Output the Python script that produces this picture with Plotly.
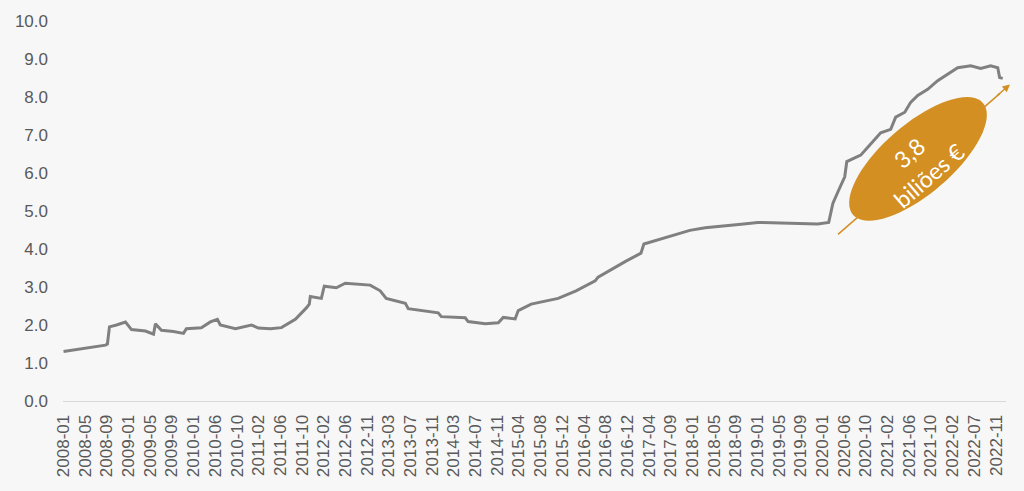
import math
import plotly.graph_objects as go

# Weekly balance-sheet readings (trillion €)
dates = [
    "2008-01-04", "2008-02-15", "2008-04-29", "2008-07-01", "2008-09-04", "2008-09-15",
    "2008-09-27", "2008-11-07",
    "2008-12-29", "2009-02-02", "2009-04-24", "2009-06-10", "2009-06-21", "2009-07-26",
    "2009-10-04", "2009-12-01", "2009-12-18", "2010-03-15", "2010-05-06", "2010-06-16",
    "2010-07-03", "2010-09-29", "2010-11-14", "2010-12-31", "2011-02-09", "2011-04-20",
    "2011-06-23", "2011-09-12", "2011-11-15", "2011-12-02", "2011-12-08", "2012-02-10",
    "2012-02-27", "2012-05-07", "2012-06-28", "2012-11-20", "2013-01-17", "2013-02-21",
    "2013-06-12", "2013-06-29", "2013-12-20", "2014-01-07", "2014-05-26", "2014-06-12",
    "2014-09-19", "2014-12-04", "2015-01-02", "2015-03-12", "2015-03-30", "2015-06-13",
    "2015-11-17", "2016-02-29", "2016-06-19", "2016-07-06", "2016-12-15", "2017-03-12",
    "2017-03-29", "2017-06-30", "2017-12-21", "2018-03-20", "2018-07-01", "2018-10-15",
    "2019-01-20", "2019-07-13",
    "2020-01-03", "2020-03-07", "2020-03-31", "2020-04-29", "2020-06-08", "2020-06-20",
    "2020-09-09", "2020-10-20", "2020-11-29", "2021-01-03", "2021-03-02", "2021-03-31",
    "2021-05-23", "2021-06-26", "2021-08-06", "2021-10-03", "2021-11-30", "2022-01-27",
    "2022-03-26", "2022-06-10", "2022-08-07", "2022-10-04", "2022-11-14", "2022-11-25",
    "2022-12-13",
]
values = [
    1.30, 1.33, 1.38, 1.43, 1.47, 1.50,
    1.95, 2.00,
    2.08, 1.88, 1.84, 1.76, 2.03, 1.86,
    1.83, 1.78, 1.90, 1.93, 2.08, 2.15,
    2.00, 1.90, 1.95, 2.00, 1.92, 1.90,
    1.93, 2.15, 2.45, 2.55, 2.75, 2.70,
    3.02, 2.98, 3.10, 3.05, 2.90, 2.70,
    2.57, 2.43, 2.32, 2.22, 2.19, 2.09,
    2.03, 2.06, 2.20, 2.16, 2.38, 2.55,
    2.70, 2.90, 3.16, 3.26, 3.68, 3.89,
    4.13, 4.25, 4.49, 4.56, 4.60, 4.65,
    4.70, 4.68,
    4.66, 4.70, 5.20, 5.50, 5.90, 6.30,
    6.47, 6.68, 6.89, 7.06, 7.15, 7.47,
    7.60, 7.86, 8.04, 8.20, 8.43, 8.59,
    8.77, 8.82, 8.75, 8.82, 8.77, 8.51,
    8.49,
]

tick_dates = [
    "2008-01-04", "2008-05-09", "2008-09-12", "2009-01-16", "2009-05-22", "2009-09-25",
    "2010-01-29", "2010-06-04", "2010-10-08", "2011-02-11", "2011-06-17", "2011-10-21",
    "2012-02-24", "2012-06-29", "2012-11-02", "2013-03-08", "2013-07-12", "2013-11-15",
    "2014-03-21", "2014-07-25", "2014-11-28", "2015-04-03", "2015-08-07", "2015-12-11",
    "2016-04-15", "2016-08-19", "2016-12-23", "2017-04-28", "2017-09-01", "2018-01-05",
    "2018-05-11", "2018-09-14", "2019-01-18", "2019-05-24", "2019-09-27", "2020-01-31",
    "2020-06-05", "2020-10-09", "2021-02-12", "2021-06-18", "2021-10-22", "2022-02-25",
    "2022-07-01", "2022-11-04",
]
tick_labels = [d[:7] for d in tick_dates]

y_ticks = [0, 1, 2, 3, 4, 5, 6, 7, 8, 9, 10]
annotation_text = "3,8<br>biliões €"

W, H = 1024, 491
L, R, T, B = 63, 18, 18, 90
PW, PH = W - L - R, H - T - B


def paper(px, py):
    return (px - L) / PW, (H - B - py) / PH


fig = go.Figure()
fig.add_trace(go.Scatter(
    x=dates, y=values, mode="lines",
    line=dict(color="#808080", width=3),
    hoverinfo="skip", showlegend=False,
))

# ellipse callout (pixel geometry -> paper coords)
cx, cy, a, b, th = 918, 157, 86, 35, math.radians(41)
pts = []
for i in range(73):
    ph = 2 * math.pi * i / 72
    px = cx + a * math.cos(ph) * math.cos(th) - b * math.sin(ph) * math.sin(th)
    py = cy - (a * math.cos(ph) * math.sin(th) + b * math.sin(ph) * math.cos(th))
    pts.append(paper(px, py))
path = "M " + " L ".join(f"{x:.5f},{y:.5f}" for x, y in pts) + " Z"

ORANGE = "#D38F21"
x0, y0 = paper(838, 233)
x1, y1 = paper(1000, 91)
shapes = [
    dict(type="line", xref="paper", yref="paper", x0=x0, y0=y0, x1=x1, y1=y1,
         line=dict(color=ORANGE, width=1.5), layer="above"),
    dict(type="path", xref="paper", yref="paper", path=path,
         fillcolor=ORANGE, line=dict(width=0), layer="above"),
]

hx, hy = paper(1010, 82)
tx, ty = paper(cx + 1, cy + 5)
fig.update_layout(
    width=W, height=H,
    margin=dict(l=L, r=R, t=T, b=B),
    paper_bgcolor="#f7f7f7", plot_bgcolor="#f7f7f7",
    shapes=shapes,
    annotations=[
        dict(xref="paper", yref="paper", x=hx, y=hy, ax=-14, ay=12,
             showarrow=True, arrowhead=2, arrowsize=1, arrowwidth=1.5,
             arrowcolor=ORANGE, text=""),
        dict(xref="paper", yref="paper", x=tx, y=ty, text=annotation_text,
             xanchor="center", yanchor="middle",
             showarrow=False, textangle=-41,
             font=dict(family="Lato, Open Sans", size=23, color="white")),
    ],
    xaxis=dict(
        type="date", range=["2008-01-01", "2023-01-01"],
        tickmode="array", tickvals=tick_dates, ticktext=tick_labels,
        tickangle=-90, showgrid=False, zeroline=False,
        showline=True, linecolor="#d9d9d9", linewidth=1,
        ticks="", ticklabelstandoff=6,
        tickfont=dict(family="Liberation Sans, Arial", size=17, color="#595959"),
    ),
    yaxis=dict(
        range=[0, 10], tickvals=y_ticks, tickformat=".1f",
        showgrid=False, zeroline=False, showline=False, ticks="",
        ticklabelstandoff=14,
        tickfont=dict(family="Liberation Sans, Arial", size=17, color="#595959"),
    ),
)

fig.write_html(
    "out.html",
    config={"displayModeBar": False},
    post_script="document.body.style.margin='0';document.body.style.background='#f7f7f7';",
)
